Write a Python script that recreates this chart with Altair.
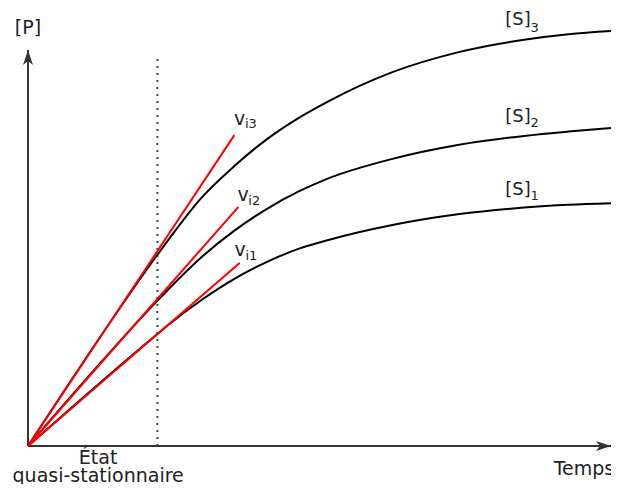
import altair as alt
import pandas as pd

# ---------------- data ----------------
# time samples (arbitrary units) shared by the three progress curves
curve_t = [0, 2.22, 2.41, 2.97, 3.54, 4.10, 4.66, 5.12, 6.25, 7.37, 8.51, 9.27, 10.0]
s3_P = [0, 4.83, 5.21, 6.26, 7.07, 7.75, 8.30, 8.68, 9.44, 9.94, 10.26, 10.40, 10.48]
s2_P = [0, 3.67, 3.96, 4.76, 5.44, 5.99, 6.44, 6.74, 7.25, 7.60, 7.83, 7.94, 8.03]
s1_P = [0, 2.83, 3.06, 3.68, 4.22, 4.65, 4.99, 5.19, 5.58, 5.85, 6.02, 6.09, 6.13]
series_names = ["[S]3", "[S]2", "[S]1"]

# initial-rate tangents (from origin to end point)
tan_names = ["vi3", "vi2", "vi1"]
tan_t_end = [3.54, 3.61, 3.63]
tan_P_end = [7.85, 6.04, 4.62]

# quasi steady state marker
qss_t = 2.22
qss_top = 9.80

axis_len_t = 10.0
axis_len_P = 10.0

# labels
main_labels = ["v", "v", "v", "Temps"]
main_t = [3.534, 3.593, 3.542, 9.017]
main_P = [8.106, 6.187, 4.798, -0.732]
s_labels = ["[S]", "[S]", "[S]"]
s_t = [8.186, 8.186, 8.186]
s_P = [10.619, 8.182, 6.326]
sub_labels = ["i3", "i2", "i1", "3", "2", "1"]
sub_t = [3.720, 3.780, 3.729, 8.619, 8.619, 8.619]
sub_P = [8.030, 6.086, 4.697, 10.455, 8.056, 6.212]
center_labels = ["[P]", "État", "quasi-stationnaire"]
center_t = [0.0, 1.203, 1.203]
center_P = [10.40, -0.455, -0.909]

# ---------------- layout ----------------
W, H = 603, 476
ORIGIN_X, ORIGIN_Y = 20, 438      # origin inside the plot area, px
UX, UY = 58.3, 39.6               # px per data unit
XDOM = [-ORIGIN_X / UX, (W - ORIGIN_X) / UX]
YDOM = [-(H - ORIGIN_Y) / UY, ORIGIN_Y / UY]
FONT = "DejaVu Sans"
TXT = "#222222"
AX = "#333333"

xs = alt.Scale(domain=XDOM, nice=False, zero=False)
ys = alt.Scale(domain=YDOM, nice=False, zero=False)

rows = []
for name, vals in zip(series_names, [s3_P, s2_P, s1_P]):
    for t, p in zip(curve_t, vals):
        rows.append({"series": name, "t": t, "P": p})
curves_df = pd.DataFrame(rows)

tan_df = pd.DataFrame({"name": tan_names, "t": [0] * 3, "P": [0] * 3,
                       "t2": tan_t_end, "P2": tan_P_end})
axes_df = pd.DataFrame({"t": [0, 0], "P": [0, 0], "t2": [axis_len_t, 0], "P2": [0, axis_len_P]})
qss_df = pd.DataFrame({"t": [qss_t], "P": [0], "t2": [qss_t], "P2": [qss_top]})
arrow_up_df = pd.DataFrame({"t": [0], "P": [axis_len_P]})
arrow_right_df = pd.DataFrame({"t": [axis_len_t], "P": [0]})
main_df = pd.DataFrame({"label": main_labels, "t": main_t, "P": main_P})
s_df = pd.DataFrame({"label": s_labels, "t": s_t, "P": s_P})
sub_df = pd.DataFrame({"label": sub_labels, "t": sub_t, "P": sub_P})
center_df = pd.DataFrame({"label": center_labels, "t": center_t, "P": center_P})

X = alt.X("t:Q", scale=xs, axis=None)
Y = alt.Y("P:Q", scale=ys, axis=None)

axes = alt.Chart(axes_df).mark_rule(color=AX, strokeWidth=2).encode(
    x=X, y=Y, x2="t2:Q", y2="P2:Q")
qss = alt.Chart(qss_df).mark_rule(color="#444444", strokeWidth=2, strokeDash=[2, 5]).encode(
    x=X, y=Y, x2="t2:Q", y2="P2:Q")
arrow_up = alt.Chart(arrow_up_df).mark_point(
    shape="M0,0 L1,3 L0,2.2 L-1,3 Z", filled=True, size=100, color=AX, opacity=1, strokeWidth=0
).encode(x=X, y=Y)
arrow_right = alt.Chart(arrow_right_df).mark_point(
    shape="M0,0 L-3,-1 L-2.2,0 L-3,1 Z", filled=True, size=100, color=AX, opacity=1, strokeWidth=0
).encode(x=X, y=Y)
curves = alt.Chart(curves_df).mark_line(color="black", strokeWidth=2, interpolate="monotone").encode(
    x=X, y=Y, detail="series:N")
tangents = alt.Chart(tan_df).mark_rule(color="#ff0000", strokeWidth=2).encode(
    x=X, y=Y, x2="t2:Q", y2="P2:Q")
main_txt = alt.Chart(main_df).mark_text(
    align="left", baseline="alphabetic", font=FONT, fontSize=19, color=TXT
).encode(x=X, y=Y, text="label:N")
s_txt = alt.Chart(s_df).mark_text(
    align="left", baseline="alphabetic", font=FONT, fontSize=18, color=TXT
).encode(x=X, y=Y, text="label:N")
sub_txt = alt.Chart(sub_df).mark_text(
    align="left", baseline="alphabetic", font=FONT, fontSize=13, color=TXT
).encode(x=X, y=Y, text="label:N")
center_txt = alt.Chart(center_df).mark_text(
    align="center", baseline="alphabetic", font=FONT, fontSize=19, color=TXT
).encode(x=X, y=Y, text="label:N")

chart = alt.layer(
    axes, qss, curves, tangents, arrow_up, arrow_right, main_txt, s_txt, sub_txt, center_txt
).properties(
    width=W, height=H, autosize=alt.AutoSizeParams(type="none"), padding=0, background="white"
).configure_view(stroke=None)

chart.save("out.html", embed_options={"renderer": "svg", "actions": False})
